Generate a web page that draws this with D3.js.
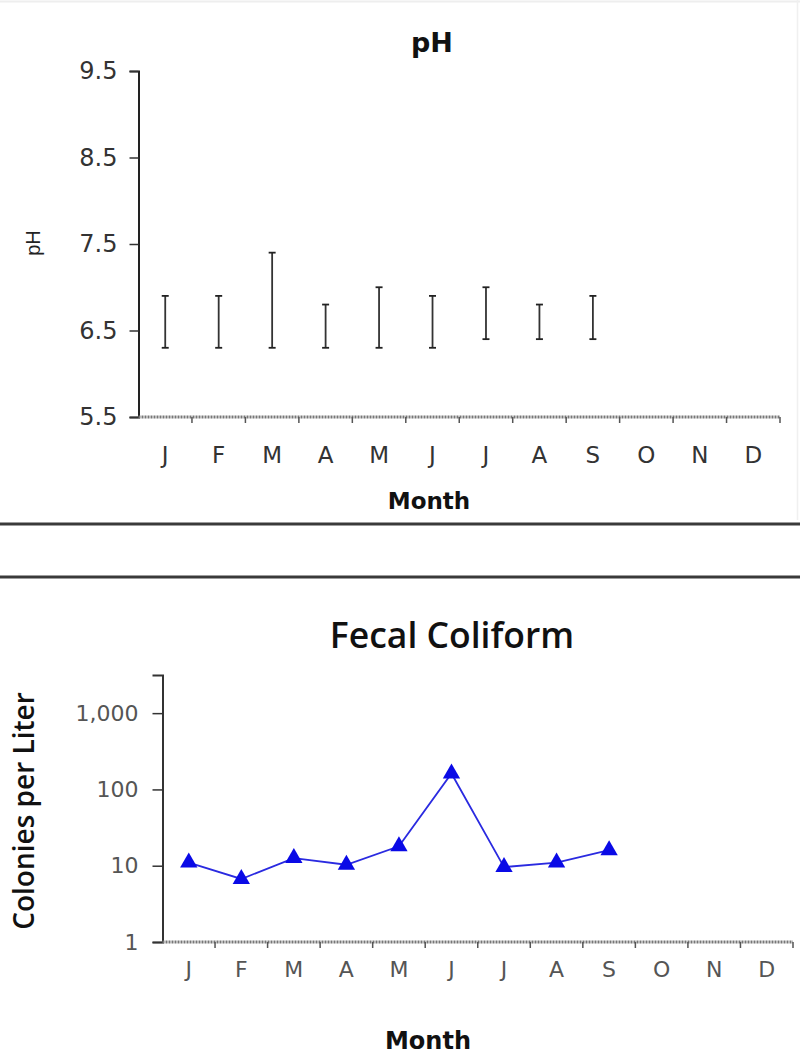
<!DOCTYPE html>
<html><head><meta charset="utf-8">
<script src="https://cdn.jsdelivr.net/npm/d3@7"></script>
<style>body{margin:0;background:#fff}svg{display:block}</style>
</head><body>
<svg id="c" width="800" height="1059"></svg>
<script>
const months = ["J","F","M","A","M","J","J","A","S","O","N","D"];
const phLow  = [6.3, 6.3, 6.3, 6.3, 6.3, 6.3, 6.4, 6.4, 6.4];
const phHigh = [6.9, 6.9, 7.4, 6.8, 7.0, 6.9, 7.0, 6.8, 6.9];
const phTicks = [5.5, 6.5, 7.5, 8.5, 9.5];
const coliform = [11, 6.7, 12.6, 10.3, 18, 162, 9.6, 11, 16];
const coliTicks = [1, 10, 100, 1000];

const svg = d3.select("#c");
const idx = months.map((d,i)=>i);
const tickFont = "DejaVu Sans, Verdana, sans-serif";

// panel lines
svg.append("line").attr("x1",0).attr("x2",800).attr("y1",1.5).attr("y2",1.5).attr("stroke","#eee").attr("stroke-width",2);
svg.append("line").attr("x1",797.5).attr("x2",797.5).attr("y1",0).attr("y2",520).attr("stroke","#f0f0f0").attr("stroke-width",1.5);
[524, 577].forEach(y=>{
  svg.append("line").attr("x1",0).attr("x2",800).attr("y1",y).attr("y2",y).attr("stroke","#3a3a3a").attr("stroke-width",3);
});

// ---------- pH chart ----------
const x1 = d3.scaleBand().domain(idx).range([138.5, 780]);
const y1 = d3.scaleLinear().domain([5.5, 9.5]).range([417, 71]);

const g1 = svg.append("g");
const ya1 = g1.append("g").attr("transform","translate(138.5,0)")
  .call(d3.axisLeft(y1).tickValues(phTicks).tickFormat(d3.format(".1f")).tickSize(9).tickPadding(12));
ya1.select(".domain").attr("stroke","#222").attr("stroke-width",2);
ya1.selectAll(".tick line").attr("stroke","#333").attr("stroke-width",1.5);
ya1.selectAll("text").attr("font-family",tickFont).attr("font-size",24).attr("fill","#333");

const xa1 = g1.append("g").attr("transform","translate(0,417)");
xa1.append("line").attr("x1",138.5).attr("x2",780).attr("y1",0).attr("y2",0)
  .attr("stroke","#777").attr("stroke-width",3).attr("stroke-dasharray","2,1");
xa1.selectAll("line.t").data(idx).join("line").attr("class","t")
  .attr("x1",d=>x1(d)+x1.bandwidth()).attr("x2",d=>x1(d)+x1.bandwidth())
  .attr("y1",0).attr("y2",6).attr("stroke","#555").attr("stroke-width",1.5);
xa1.selectAll("text").data(idx).join("text")
  .attr("x",d=>x1(d)+x1.bandwidth()/2).attr("y",46)
  .attr("text-anchor","middle").attr("font-family",tickFont)
  .attr("font-size",23).attr("fill","#333").text(d=>months[d]);

const eb = g1.selectAll("g.eb").data(phLow.map((lo,i)=>({i,lo,hi:phHigh[i]}))).join("g").attr("class","eb");
eb.append("line").attr("x1",d=>x1(d.i)+x1.bandwidth()/2).attr("x2",d=>x1(d.i)+x1.bandwidth()/2)
  .attr("y1",d=>y1(d.lo)).attr("y2",d=>y1(d.hi)).attr("stroke","#333").attr("stroke-width",1.8);
["lo","hi"].forEach(k=>{
  eb.append("line").attr("x1",d=>x1(d.i)+x1.bandwidth()/2-3.5).attr("x2",d=>x1(d.i)+x1.bandwidth()/2+3.5)
    .attr("y1",d=>y1(d[k])).attr("y2",d=>y1(d[k])).attr("stroke","#222").attr("stroke-width",1.8);
});

g1.append("text").attr("x",432).attr("y",52).attr("text-anchor","middle")
  .attr("font-family","DejaVu Sans, Verdana, sans-serif").attr("font-weight","bold").attr("font-size",27).attr("fill","#111").text("pH");
g1.append("text").attr("transform","translate(40,243) rotate(-90)").attr("text-anchor","middle")
  .attr("font-family","Liberation Sans, Arial, sans-serif").attr("font-size",20).attr("fill","#222").text("pH");
g1.append("text").attr("x",429).attr("y",509).attr("text-anchor","middle")
  .attr("font-family","DejaVu Sans, Verdana, sans-serif").attr("font-weight","bold").attr("font-size",23).attr("fill","#111").text("Month");

// ---------- Fecal coliform chart ----------
const x2 = d3.scaleBand().domain(idx).range([162.5, 793]);
const y2 = d3.scaleLog().domain([1, Math.pow(10,3.5)]).range([942, 675]);

const g2 = svg.append("g");
const ya2 = g2.append("g").attr("transform","translate(162.5,0)")
  .call(d3.axisLeft(y2).tickValues(coliTicks).tickFormat(d3.format(",")).tickSize(10).tickPadding(14));
ya2.select(".domain").attr("stroke","#333").attr("stroke-width",2);
ya2.selectAll(".tick line").attr("stroke","#333").attr("stroke-width",1.5);
ya2.selectAll("text").attr("font-family",tickFont).attr("font-size",22).attr("fill","#555");

const xa2 = g2.append("g").attr("transform","translate(0,942)");
xa2.append("line").attr("x1",162.5).attr("x2",793).attr("y1",0).attr("y2",0)
  .attr("stroke","#777").attr("stroke-width",3).attr("stroke-dasharray","2,1");
xa2.selectAll("line.t").data(idx).join("line").attr("class","t")
  .attr("x1",d=>x2(d)+x2.bandwidth()).attr("x2",d=>x2(d)+x2.bandwidth())
  .attr("y1",0).attr("y2",6).attr("stroke","#555").attr("stroke-width",1.5);
xa2.selectAll("text").data(idx).join("text")
  .attr("x",d=>x2(d)+x2.bandwidth()/2).attr("y",35)
  .attr("text-anchor","middle").attr("font-family",tickFont)
  .attr("font-size",22).attr("fill","#555").text(d=>months[d]);

const line = d3.line().x((d,i)=>x2(i)+x2.bandwidth()/2).y(d=>y2(d));
g2.append("path").datum(coliform).attr("d",line).attr("fill","none").attr("stroke","#2a2ae0").attr("stroke-width",1.8);
g2.selectAll("path.m").data(coliform).join("path").attr("class","m")
  .attr("transform",(d,i)=>`translate(${x2(i)+x2.bandwidth()/2},${y2(d)})`)
  .attr("d",d3.symbol(d3.symbolTriangle,130)).attr("fill","#0a0ae6");

g2.append("text").attr("x",452).attr("y",648).attr("text-anchor","middle")
  .attr("font-family","Open Sans, sans-serif").attr("font-weight",600).attr("font-size",35.5).attr("fill","#111").text("Fecal Coliform");
g2.append("text").attr("transform","translate(34,811) rotate(-90)").attr("text-anchor","middle")
  .attr("font-family","Open Sans, sans-serif").attr("font-weight",600).attr("font-size",28).attr("fill","#111").text("Colonies per Liter");
g2.append("text").attr("x",428).attr("y",1049).attr("text-anchor","middle")
  .attr("font-family","DejaVu Sans, Verdana, sans-serif").attr("font-weight","bold").attr("font-size",24).attr("fill","#111").text("Month");
</script>
</body></html>
